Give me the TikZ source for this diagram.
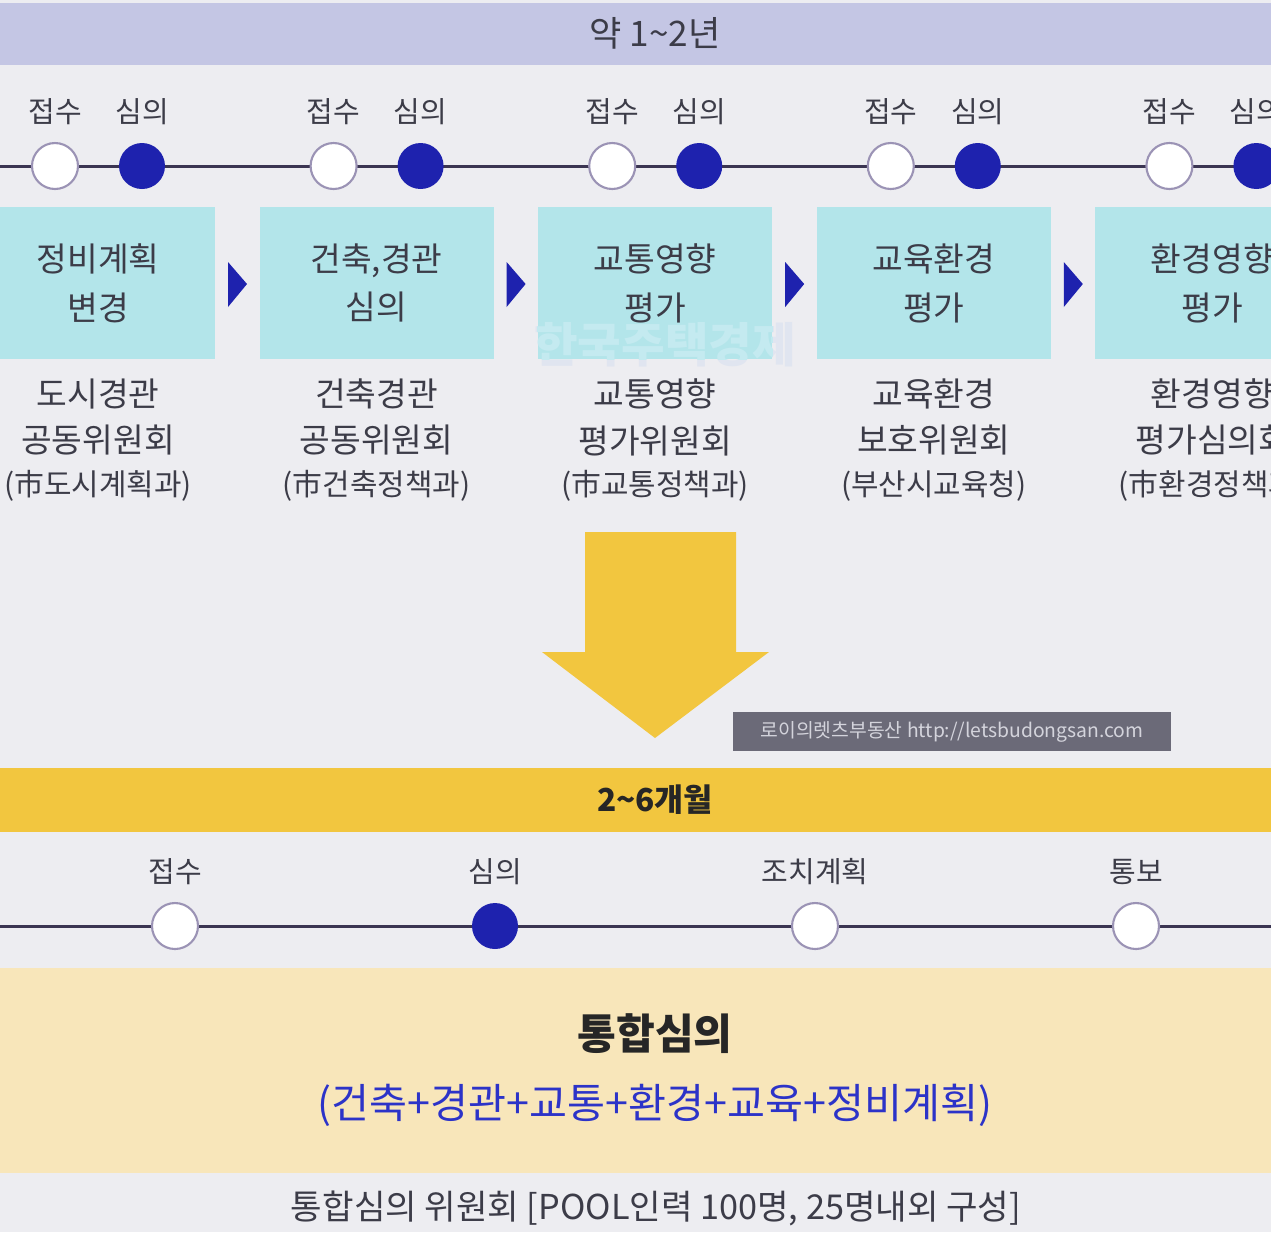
\documentclass[tikz,border=0pt]{standalone}
\usepackage{fontspec}
\setmainfont{Noto Sans CJK KR}
\definecolor{bgc}{HTML}{EDEDF1}
\definecolor{lav}{HTML}{C4C6E4}
\definecolor{tline}{HTML}{3B3552}
\definecolor{ostroke}{HTML}{9B93B5}
\definecolor{bfill}{HTML}{1E22AE}
\definecolor{cyanbox}{HTML}{B3E5EA}
\definecolor{dtext}{HTML}{3C3C48}
\definecolor{yel}{HTML}{F2C63F}
\definecolor{graybox}{HTML}{6B6A78}
\definecolor{graytxt}{HTML}{D4D4DC}
\definecolor{beige}{HTML}{F8E6BA}
\definecolor{btext}{HTML}{2C33C8}
\definecolor{wmonbox}{HTML}{C4EAF0}
\definecolor{wmonbg}{HTML}{E0E5F0}
\tikzset{
  lbl/.style={text=dtext, font=\fontsize{16.5}{18}\selectfont, inner sep=0pt},
  opencirc/.style={circle, draw=ostroke, line width=1.2pt, fill=white, minimum size=0.92cm, inner sep=0pt},
  fullcirc/.style={circle, fill=bfill, minimum size=0.92cm, inner sep=0pt},
  stagebox/.style={fill=cyanbox, minimum width=4.68cm, minimum height=3.04cm, inner sep=0pt, text=dtext, align=center, font=\fontsize{19}{27.8}\selectfont},
  undertxt/.style={text=dtext, align=center, inner sep=0pt, font=\fontsize{19}{26.6}\selectfont},
  partxt/.style={text=dtext, inner sep=0pt, font=\fontsize{17}{18}\selectfont},
  tline/.style={draw=tline, line width=1.7pt},
  wmstyle/.style={font=\fontsize{27}{30}\selectfont\bfseries, inner sep=0pt},
}
\begin{document}
\begin{tikzpicture}[x=0.02cm,y=-0.02cm]
\useasboundingbox (0,0) rectangle (1271,1232);
\clip (0,0) rectangle (1271,1232);
\fill[bgc] (0,0) rectangle (1271,1232);
% top band
\fill[lav] (0,3) rectangle (1271,65);
\node[text=dtext, font=\fontsize{20}{22}\selectfont, inner sep=0pt] (title) at (655,33) {약 1\textasciitilde2년};
% top timeline
\coordinate (tlA) at (-10,166);
\coordinate (tlB) at (1281,166);
\draw[tline] (tlA) -- (tlB);
% watermark on background
\node[wmstyle, text=wmonbg] (wm) at (665,345) {한국주택경제};
\foreach \i/\bt/\ut/\pt in {
  0/{정비계획\\변경}/{도시경관\\공동위원회}/{(市도시계획과)},
  1/{건축,경관\\심의}/{건축경관\\공동위원회}/{(市건축정책과)},
  2/{교통영향\\평가}/{교통영향\\평가위원회}/{(市교통정책과)},
  3/{교육환경\\평가}/{교육환경\\보호위원회}/{(부산시교육청)},
  4/{환경영향\\평가}/{환경영향\\평가심의회}/{(市환경정책과)}} {
  \pgfmathsetmacro{\bx}{55+\i*278.6}
  \node[lbl] (rl\i) at (\bx,112) {접수};
  \node[lbl] (sl\i) at (\bx+87,112) {심의};
  \node[opencirc] (rc\i) at (\bx,166) {};
  \node[fullcirc] (sc\i) at (\bx+87,166) {};
  \node[stagebox] (box\i) at (\bx+43,283) {\bt};
  \node[undertxt] (com\i) at (\bx+43,417) {\ut};
  \node[partxt] (dep\i) at (\bx+43,486) {\pt};
  \fill[bfill] (\bx+173,262) -- (\bx+192,284) -- (\bx+173,307) -- cycle;
}
% watermark on the cyan box
\begin{scope}
  \clip (box2.north west) rectangle (box2.south east);
  \node[wmstyle, text=wmonbox] (wmb) at (665,345) {한국주택경제};
\end{scope}
% big yellow arrow
\fill[yel] (585,532) -- (736,532) -- (736,652) -- (769,652) -- (655,738) -- (542,652) -- (585,652) -- cycle;
% gray credit box
\node[fill=graybox, text=graytxt, minimum width=8.76cm, minimum height=0.78cm, inner sep=0pt, font=\fontsize{11}{12}\selectfont] (credit) at (952,731.5) {로이의렛츠부동산 http://letsbudongsan.com};
% yellow band
\fill[yel] (0,768) rectangle (1271,832);
\node[text=black!85, font=\fontsize{18}{22}\selectfont\bfseries, inner sep=0pt] (period) at (655,800) {2\textasciitilde6개월};
% bottom timeline
\coordinate (blA) at (-10,926);
\coordinate (blB) at (1281,926);
\draw[tline] (blA) -- (blB);
\node[lbl] (bl1) at (175,872) {접수};
\node[lbl] (bl2) at (495,872) {심의};
\node[lbl] (bl3) at (815,872) {조치계획};
\node[lbl] (bl4) at (1136,872) {통보};
\node[opencirc] (bc1) at (175,926) {};
\node[fullcirc] (bc2) at (495,926) {};
\node[opencirc] (bc3) at (815,926) {};
\node[opencirc] (bc4) at (1136,926) {};
% beige box
\fill[beige] (0,968) rectangle (1271,1173);
\node[text=black!85, font=\fontsize{24}{26}\selectfont\bfseries, inner sep=0pt] (tong) at (655,1034) {통합심의};
\node[text=btext, font=\fontsize{23.5}{26}\selectfont, inner sep=0pt] (comp) at (655,1105) {(건축+경관+교통+환경+교육+정비계획)};
\node[text=dtext, font=\fontsize{19.5}{22}\selectfont, inner sep=0pt] (pool) at (656,1208) {통합심의 위원회 [POOL인력 100명, 25명내외 구성]};
\end{tikzpicture}
\end{document}
